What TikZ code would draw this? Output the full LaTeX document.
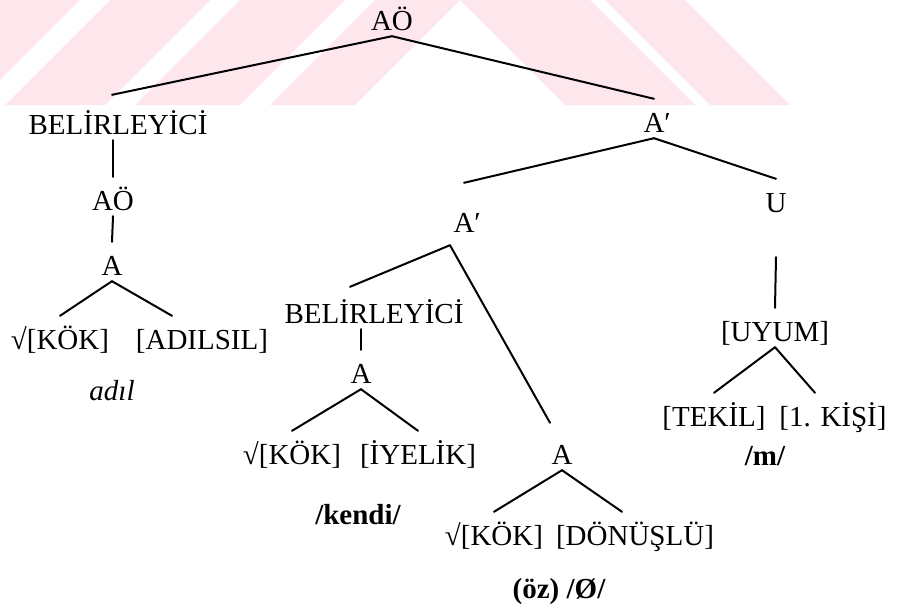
\documentclass[tikz,border=0pt]{standalone}
\usepackage{fontspec}
\setmainfont{Liberation Serif}

\definecolor{wmpink}{RGB}{253,231,236}

\tikzset{
  lbl/.style={anchor=base, inner xsep=0pt, inner ysep=0pt,
    text height=33pt, text depth=6pt},
  branch/.style={line width=2pt, line cap=round},
  stripe/.style={fill=wmpink, draw=none},
}

\begin{document}
\begin{tikzpicture}[x=1pt, y=-1pt, font=\fontsize{29}{35}\selectfont]
  \useasboundingbox (0,0) rectangle (897,614);

  % faint stripes along the top
  \begin{scope}
    \clip (0,0) rectangle (897,105);
    \foreach \b/\w in {-120/95, 5/100, 135/105, 270/85}
      \fill[stripe] (\b,105) -- (\b+\w,105) -- (\b+\w+105,0) -- (\b+105,0) -- cycle;
    \foreach \a/\w in {460/130, 605/80}
      \fill[stripe] (\a,0) -- (\a+\w,0) -- (\a+\w+105,105) -- (\a+105,105) -- cycle;
  \end{scope}

  \draw
    (392,30) node[lbl] (ao1) {AÖ}
    (118,134) node[lbl] (bel1) {BELİRLEYİCİ}
    (113,210) node[lbl] (ao2) {AÖ}
    (112,275) node[lbl] (a1) {A}
    (60,349) node[lbl] (kok1) {√[KÖK]}
    (202,349) node[lbl] (adilsil) {[ADILSIL]}
    (112,400) node[lbl] (adil) {\itshape adıl}
    (654,132) node[lbl] (abar1) {A\rlap{′}}
    (464,232) node[lbl] (abar2) {A\rlap{′}}
    (776,212) node[lbl] (u) {U}
    (374,323) node[lbl] (bel2) {BELİRLEYİCİ}
    (361,383) node[lbl] (a2) {A}
    (292,464) node[lbl] (kok2) {√[KÖK]}
    (418,464) node[lbl] (iyelik) {[İYELİK]}
    (358,524) node[lbl] (kendi) {\bfseries /kendi/}
    (562,464) node[lbl] (a3) {A}
    (494,545) node[lbl] (kok3) {√[KÖK]}
    (635,545) node[lbl] (donuslu) {[DÖNÜŞLÜ]}
    (559,598) node[lbl] (oz) {\bfseries (öz) /Ø/}
    (775,341) node[lbl] (uyum) {[UYUM]}
    (714,426) node[lbl] (tekil) {[TEKİL]}
    (833,426) node[lbl] (kisi) {[1. KİŞİ]}
    (765,465) node[lbl] (m) {\bfseries /m/};

  \begin{scope}[branch]
    \draw (ao1.south) to ([shift={(-6pt,6pt)}]bel1.north);
    \draw (ao1.south) to (abar1.north);
    \draw (bel1.south -| ao2) to (ao2.north);
    \draw (ao2.south) to (a1.north);
    \draw (a1.south) to (kok1.north);
    \draw (a1.south) to ([xshift=-30pt]adilsil.north);
    \draw (abar1.south) to ([yshift=16pt]abar2.north);
    \draw (abar1.south) to (u.north);
    \draw ([shift={(-14pt,-7pt)}]abar2.south) to ([shift={(-24pt,3pt)}]bel2.north);
    \draw ([shift={(-14pt,-7pt)}]abar2.south) to ([shift={(-12pt,8pt)}]a3.north);
    \draw (bel2.south -| a2) to (a2.north);
    \draw (a2.south) to (kok2.north);
    \draw (a2.south) to (iyelik.north);
    \draw (a3.south) to (kok3.north);
    \draw (a3.south) to ([xshift=-13pt]donuslu.north);
    \draw ([yshift=-39pt]u.south) to (uyum.north);
    \draw (uyum.south) to (tekil.north);
    \draw (uyum.south) to ([xshift=-18pt]kisi.north);
  \end{scope}
\end{tikzpicture}
\end{document}
